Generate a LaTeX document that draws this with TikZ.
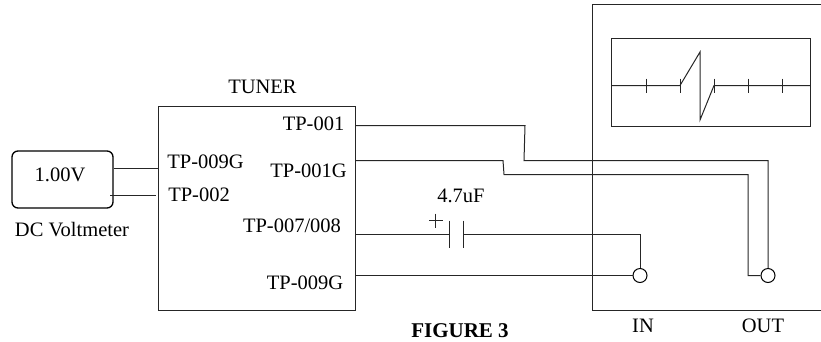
\documentclass[tikz,border=0pt]{standalone}
\usepackage{fontspec}
\setmainfont{Liberation Serif}
\usetikzlibrary{calc}
\tikzset{
  Wire/.style={line width=1pt,black!85},
  Lab/.style={inner sep=0pt,font=\fontsize{20.5}{24}\selectfont},
  Pin/.style={circle,draw,line width=1pt,fill=white,inner sep=0pt,minimum size=14pt},
}
\begin{document}
\begin{tikzpicture}[x=1pt,y=-1pt]
            \useasboundingbox (0,0) rectangle (821,341);
            % boxes
            \node[draw,black!85,line width=1pt,inner sep=0pt,minimum width=196.5pt,minimum height=203.5pt] (tuner) at (257,208.25){};
            \node[draw,rounded corners=6pt,line width=1.3pt,inner sep=0pt,minimum width=101pt,minimum height=57pt] (meter) at (62.5,179.5){};
            \node[draw,black!85,line width=1pt,inner sep=0pt,minimum width=198.5pt,minimum height=88pt] (screen) at (710.75,82.5){};

            % instrument case, open to the right
            \coordinate (caseTR) at (821,4.5);
            \coordinate (caseTL) at (592,4.5);
            \coordinate (caseBL) at (592,310);
            \coordinate (caseBR) at (821,310);
            \draw[Wire] (caseTR) -- (caseTL) -- (caseBL) -- (caseBR);

            % trace on the screen
            \coordinate (t1) at (646,85.5);
            \coordinate (t2) at (680,85.5);
            \coordinate (t3) at (714,85.5);
            \coordinate (t4) at (748,85.5);
            \coordinate (t5) at (782,85.5);
            \draw[Wire] (screen.west |- t2) -- (t2) -- (700,52) -- (700,120) -- (t3) -- (screen.east |- t3);
            \foreach \n in {t1,t2,t3,t4,t5}
              \draw[Wire] ($(\n)+(0,-7)$) -- ($(\n)+(0,7)$);

            % terminals
            \node[Pin] (in) at (640,275.5){};
            \node[Pin] (out) at (768,275.5){};
            \coordinate (tp1) at (355,125.5);
            \coordinate (tp1g) at (355,160.5);
            \coordinate (tp7) at (355,234.5);
            \coordinate (tp9) at (355,275.5);
            \coordinate (capL) at (449,234.5);
            \coordinate (capR) at (463,234.5);

            \draw[Wire] (tp1) -- (525,125.5) -- (524,160.5) -- (768,160.5) -- (out);
            \draw[Wire] (tp1g) -- (503,160.5) -- (504,174.5) -- (748,174.5) -- (748,275.5) -- (out);
            \draw[Wire] (tp7) -- (capL);
            \draw[Wire] (capR) -- (640,234.5) -- (in);
            \draw[Wire] (tp9) -- (in);
            \draw[Wire] ($(capL)+(0,-14)$) -- ($(capL)+(0,13)$);
            \draw[Wire] ($(capR)+(0,-14)$) -- ($(capR)+(0,13)$);
            \coordinate (plus) at (435,220.5);
            \draw[Wire] ($(plus)+(-6,0)$) -- ($(plus)+(8,0)$);
            \draw[Wire] ($(plus)+(0,-7)$) -- ($(plus)+(0,7)$);

            % meter leads
            \coordinate (vm1) at (114,168.5);
            \coordinate (vm2) at (110,195.5);
            \draw[Wire] (vm1) -- (tuner.west |- vm1);
            \coordinate (lead2) at (156,195.5);
            \draw[Wire] (vm2) -- (lead2);

            % labels
            \node[Lab] (lt) at (262.5,87){TUNER};
            \node[Lab] (l1) at (313.5,124){TP-001};
            \node[Lab] (l2) at (308.5,171){TP-001G};
            \node[Lab] (l3) at (205.5,162){TP-009G};
            \node[Lab] (l4) at (199,195){TP-002};
            \node[Lab] (l5) at (292,226){TP-007/008};
            \node[Lab] (l6) at (305,283){TP-009G};
            \node[Lab] (lv) at (60,175){1.00V};
            \node[Lab] (ld) at (72,230){DC Voltmeter};
            \node[Lab] (lc) at (461,196){4.7uF};
            \node[Lab] (li) at (643,326){IN};
            \node[Lab] (lo) at (763,326){OUT};
            \node[Lab,font=\fontsize{21}{24}\selectfont\bfseries] (lf) at (460,330.5){FIGURE 3};
\end{tikzpicture}
\end{document}
